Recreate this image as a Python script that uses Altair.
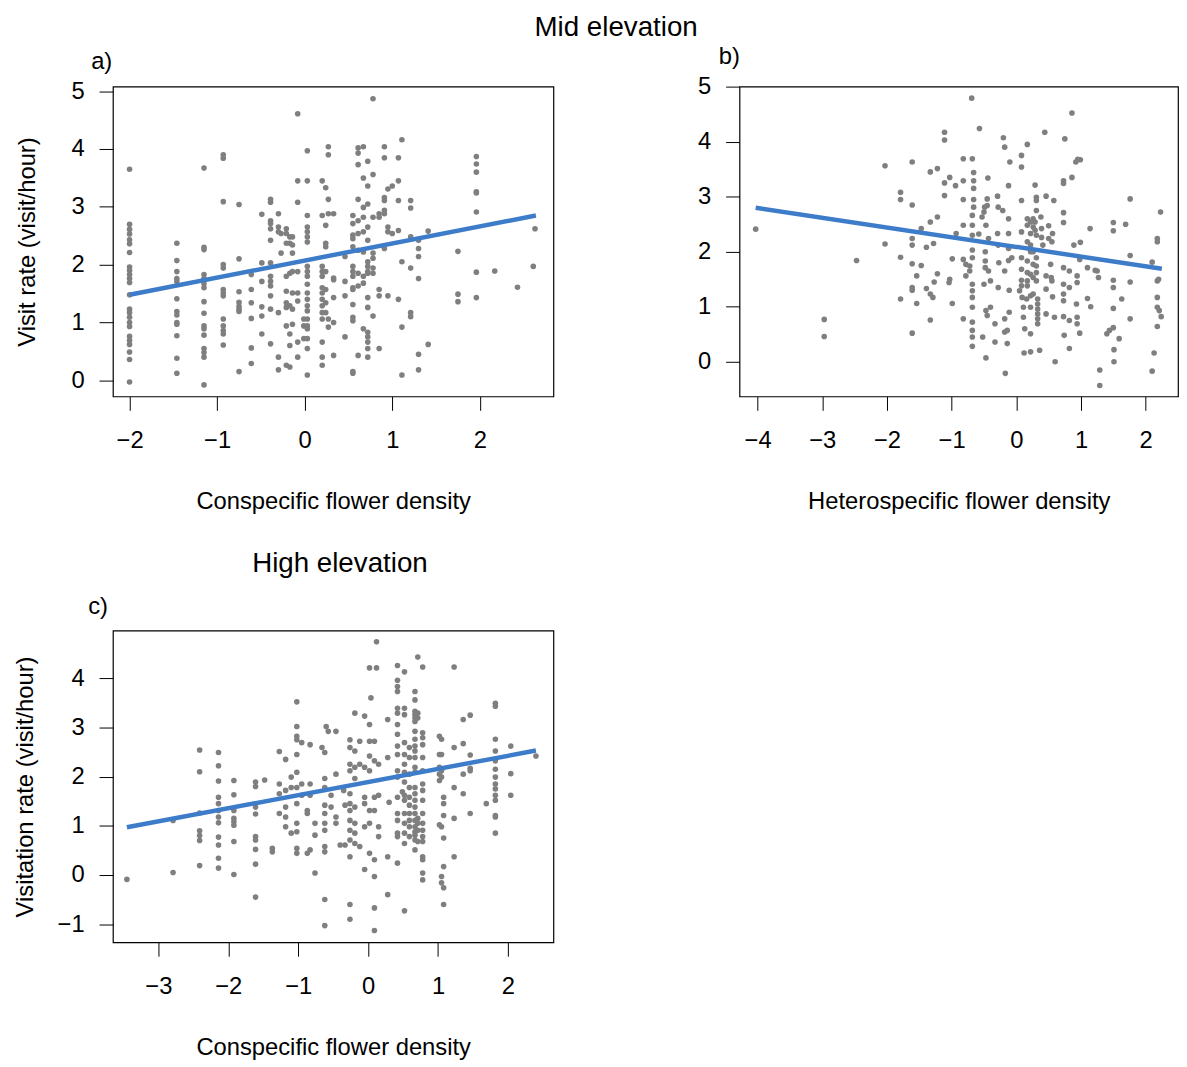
import altair as alt
import pandas as pd

FONT = "Liberation Sans"
POINT_COLOR = "#7F7F7F"
LINE_COLOR = "#3D7CC9"

# ---------------- Panel a: Mid elevation, conspecific density ----------------
a_x = [-2.0, -1.46, -1.15, -0.93, -0.75, -0.61, -0.49, -0.39, -0.30, -0.27, -0.21,
       -0.17, -0.14, -0.08, -0.01, 0.03, 0.20, 0.24, 0.27, 0.33, 0.46, 0.55, 0.61,
       0.67, 0.72, 0.78, 0.85, 0.91, 0.95, 1.00, 1.07, 1.11, 1.21, 1.30, 1.41, 1.75,
       1.96, 2.17, 2.43, 2.61, 2.63]
a_y = [
    [3.65, 2.70, 2.61, 2.53, 2.43, 2.36, 2.21, 1.96, 1.90, 1.83, 1.76, 1.69, 1.48,
     1.23, 1.17, 1.09, 1.00, 0.93, 0.76, 0.69, 0.62, 0.49, 0.36, -0.03],
    [2.37, 2.07, 1.88, 1.76, 1.71, 1.41, 1.19, 1.13, 1.00, 0.97, 0.77, 0.38, 0.12],
    [3.67, 2.30, 2.26, 1.83, 1.76, 1.67, 1.60, 1.36, 1.16, 0.94, 0.89, 0.78, 0.55,
     0.48, 0.40, -0.08],
    [3.90, 3.84, 3.09, 2.00, 1.94, 1.57, 1.51, 1.46, 1.06, 0.94, 0.86, 0.80, 0.61],
    [3.04, 2.10, 1.53, 1.35, 1.28, 1.23, 1.19, 0.15],
    [1.83, 1.57, 1.34, 1.07, 0.56, 0.29],
    [2.87, 2.03, 1.71, 1.27, 1.11, 0.80],
    [3.13, 3.08, 2.76, 2.71, 2.62, 2.42, 2.03, 1.80, 1.71, 1.63, 1.46, 1.23, 0.63],
    [2.88, 2.65, 2.57, 1.17, 0.40, 0.18],
    [2.54, 2.20],
    [2.62, 2.54, 2.37, 1.80, 1.54, 1.34, 1.26, 0.94, 0.26],
    [2.48, 2.37, 1.85, 1.29, 0.80, 0.60, 0.23],
    [2.48, 2.34, 2.20, 1.88, 1.51, 1.23, 0.97],
    [4.61, 3.45, 3.08, 1.88, 1.51, 1.37, 0.66, 0.40],
    [1.06, 0.94, 0.72],
    [3.97, 3.45, 2.85, 2.65, 2.57, 2.48, 2.39, 1.97, 1.88, 1.80, 1.66, 1.51, 1.40,
     1.29, 1.20, 1.06, 0.94, 0.89, 0.72, 0.55, 0.09],
    [3.45, 2.85, 1.97, 1.88, 1.80, 1.60, 1.51, 1.40, 1.29, 1.17, 1.06, 0.66, 0.40, 0.26],
    [3.33, 2.68, 2.37, 2.31, 1.88, 1.57, 1.34, 1.17],
    [4.04, 3.90, 3.13, 2.88, 1.06, 0.92],
    [2.88, 1.77, 1.74, 1.43, 1.00, 0.43],
    [2.14, 1.71, 1.46, 0.75],
    [2.85, 2.71, 2.51, 2.45, 2.31, 1.97, 1.88, 1.80, 1.60, 1.57, 1.31, 1.09, 1.03,
     0.15, 0.12],
    [4.02, 3.93, 3.73, 3.13, 2.76, 2.54, 2.25, 1.85, 1.63, 0.43],
    [4.04, 3.50, 2.99, 2.82, 2.57, 2.22, 1.80, 1.68, 0.89],
    [3.79, 3.36, 3.05, 2.65, 2.42, 2.05, 1.97, 1.88, 1.85, 1.43, 1.26, 0.83, 0.75,
     0.66, 0.55, 0.40],
    [4.87, 3.56, 2.82, 2.20, 2.11, 1.94, 1.85, 1.11],
    [2.88, 2.82, 1.57, 1.46, 0.55],
    [4.04, 3.85, 3.16, 3.11, 2.94, 2.88, 2.28],
    [3.31, 2.65, 2.57, 1.46],
    [3.36, 2.54],
    [3.85, 3.45, 3.11, 2.59, 1.40],
    [4.16, 2.05, 0.92, 0.09],
    [3.11, 2.98, 2.48, 1.94, 1.17, 1.10],
    [2.42, 2.28, 2.14, 1.76, 0.45, 0.18],
    [2.58, 0.62],
    [2.23, 1.49, 1.36],
    [3.87, 3.74, 3.60, 3.26, 3.24, 2.91, 1.87, 1.43],
    [1.89],
    [1.61],
    [1.97],
    [2.62],
]
a_line_x = [-2.0, 2.64]
a_line_y = [1.48, 2.85]

# ---------------- Panel b: Mid elevation, heterospecific density ----------------
b_pts_left = [
    (-4.03, 2.41), (-2.97, 0.77), (-2.97, 0.46), (-2.47, 1.84), (-2.03, 3.56),
    (-2.03, 2.14), (-1.79, 3.08), (-1.79, 2.95), (-1.79, 1.90), (-1.79, 1.14),
    (-1.61, 3.63), (-1.61, 2.85), (-1.61, 2.24), (-1.61, 2.12), (-1.61, 1.78),
    (-1.61, 1.35), (-1.61, 1.30), (-1.61, 0.52), (-1.54, 1.56), (-1.54, 1.06),
    (-1.47, 2.42), (-1.47, 1.75), (-1.39, 2.08), (-1.39, 1.33), (-1.33, 3.45),
    (-1.33, 2.54), (-1.33, 1.23), (-1.33, 0.76), (-1.29, 1.17), (-1.28, 2.15),
    (-1.22, 3.51), (-1.22, 2.63), (-1.22, 1.60), (-1.27, 1.45), (-1.11, 4.17),
    (-1.11, 4.03), (-1.11, 3.25), (-1.11, 3.02), (-1.03, 3.35), (-1.03, 1.50),
    (-0.99, 1.87), (-0.99, 1.06), (-1.04, 1.44), (-0.94, 3.20), (-0.93, 2.33),
    (-0.82, 3.69), (-0.82, 3.29), (-0.82, 2.95), (-0.82, 2.48), (-0.82, 1.86),
    (-0.82, 0.78), (-0.78, 1.77), (-0.78, 1.56),
]
b_pts_mid = [
    (-0.69, 4.79), (-0.68, 3.69), (-0.66, 3.44), (-0.66, 3.29), (-0.66, 3.15),
    (-0.66, 2.95), (-0.66, 2.81), (-0.68, 2.66), (-0.68, 2.48), (-0.68, 2.30),
    (-0.68, 2.03), (-0.68, 1.89), (-0.68, 1.41), (-0.68, 1.29), (-0.68, 1.17),
    (-0.68, 0.99), (-0.68, 0.72), (-0.68, 0.57), (-0.68, 0.45), (-0.68, 0.28),
    (-0.72, 1.74), (-0.72, 1.65), (-0.58, 2.32), (-0.57, 4.24), (-0.53, 2.63),
    (-0.50, 2.72), (-0.49, 2.81), (-0.45, 2.84), (-0.45, 2.96), (-0.47, 2.48),
    (-0.48, 2.00), (-0.48, 1.83), (-0.48, 1.71), (-0.50, 1.41), (-0.47, 0.93),
    (-0.45, 0.84), (-0.52, 0.45), (-0.44, 3.34), (-0.43, 2.24), (-0.43, 1.65),
    (-0.40, 1.47), (-0.40, 0.99), (-0.47, 0.07), (-0.33, 0.69), (-0.33, 0.36),
    (-0.29, 3.01), (-0.28, 2.81), (-0.29, 2.33), (-0.28, 2.12), (-0.28, 1.35),
    (-0.27, 1.80), (-0.20, 4.07), (-0.18, 3.90), (-0.21, 2.75), (-0.18, 1.65),
    (-0.18, 0.78), (-0.18, 0.54), (-0.17, -0.21), (-0.14, 0.33), (-0.14, 0.57),
    (-0.12, 3.20), (-0.12, 2.60), (-0.12, 2.33), (-0.12, 2.06), (-0.12, 1.84),
    (-0.11, 1.30), (-0.11, 0.90), (-0.10, 3.63), (-0.07, 1.89), (0.08, 3.75),
    (0.08, 3.54), (0.08, 2.93), (0.08, 2.36), (0.08, 1.89), (0.08, 1.68),
    (0.08, 1.48), (0.08, 1.38), (0.09, 1.17), (0.11, 0.99), (0.11, 0.81),
    (0.12, 0.16), (0.13, 0.60), (0.05, 1.29), (0.17, 3.95), (0.17, 2.60),
    (0.17, 2.48), (0.17, 2.18), (0.17, 1.83), (0.17, 1.62), (0.17, 1.47),
    (0.17, 1.38), (0.16, 1.14), (0.22, 2.54), (0.22, 2.33), (0.22, 2.12),
    (0.22, 2.00), (0.22, 1.59), (0.22, 1.20), (0.22, 0.99), (0.22, 0.51),
    (0.22, 0.18),
]
b_pts_right = [
    (0.26, 2.60), (0.26, 2.45), (0.26, 2.00), (0.26, 1.77), (0.26, 1.53),
    (0.26, 1.23), (0.29, 3.21), (0.31, 2.99), (0.31, 2.93), (0.31, 2.75),
    (0.29, 2.54), (0.29, 2.39), (0.31, 2.30), (0.31, 1.89), (0.31, 1.74),
    (0.31, 1.62), (0.31, 1.47), (0.33, 1.14), (0.33, 1.05), (0.33, 0.96),
    (0.33, 0.87), (0.33, 0.78), (0.33, 0.69), (0.36, 0.21), (0.38, 2.63),
    (0.39, 2.42), (0.39, 2.26), (0.41, 2.12), (0.44, 4.17), (0.46, 3.01),
    (0.46, 1.56), (0.46, 1.32), (0.46, 0.87), (0.50, 2.47), (0.50, 2.24),
    (0.53, 1.77), (0.54, 1.53), (0.55, 1.47), (0.55, 2.18), (0.56, 2.33),
    (0.56, 1.18), (0.58, 2.93), (0.59, 0.81), (0.60, 0.00), (0.73, 3.29),
    (0.73, 3.24), (0.73, 2.71), (0.73, 2.53), (0.73, 1.71), (0.73, 1.41),
    (0.73, 1.23), (0.73, 1.11), (0.73, 0.82), (0.74, 0.48), (0.75, 4.05),
    (0.82, 1.65), (0.82, 1.35), (0.82, 0.75), (0.82, 0.24), (0.86, 4.52),
    (0.86, 3.35), (0.89, 2.12), (0.92, 3.63), (0.95, 3.68), (0.99, 3.67),
    (0.99, 2.17), (0.98, 1.86), (0.94, 1.56), (0.94, 1.44), (0.94, 0.81),
    (0.94, 0.69), (0.98, 0.52), (0.93, 1.05), (1.10, 1.71), (1.10, 1.15),
    (1.14, 2.42), (1.15, 1.00), (1.25, 1.65), (1.27, 1.53), (1.22, 1.66),
    (1.29, -0.15), (1.29, -0.43), (1.40, 0.51), (1.44, 0.57), (1.50, 2.53),
    (1.50, 2.38), (1.50, 1.48), (1.50, 1.35), (1.50, 0.97), (1.50, 0.62),
    (1.51, 0.22), (1.51, 0.00), (1.59, 0.42), (1.63, 1.14), (1.69, 2.50),
    (1.76, 2.96), (1.76, 1.93), (1.76, 1.45), (1.76, 0.78), (2.10, 1.81),
    (2.13, 0.16), (2.10, -0.17), (2.18, 2.24), (2.18, 2.18), (2.18, 1.47),
    (2.20, 1.50), (2.23, 2.72), (2.18, 1.17), (2.18, 0.99), (2.21, 0.93),
    (2.24, 0.82), (2.18, 0.64),
]
b_line_x = [-4.03, 2.25]
b_line_y = [2.80, 1.69]

# ---------------- Panel c: High elevation, conspecific density ----------------
c_x = [-3.45, -2.79, -2.41, -2.14, -1.92, -1.61, -1.48, -1.37, -1.27, -1.18, -1.10,
       -1.02, -0.95, -0.87, -0.83, -0.76, -0.66, -0.62, -0.60, -0.57, -0.53, -0.46,
       -0.40, -0.35, -0.33, -0.26, -0.19, -0.12, -0.05, 0.02, 0.04, 0.09, 0.12, 0.15,
       0.28, 0.30, 0.42, 0.49, 0.52, 0.59, 0.67, 0.71, 0.78, 1.02, 1.05, 1.08, 1.23,
       1.36, 1.46, 1.69, 1.82, 2.04, 2.40]
c_y = [
    [-0.09],
    [1.11, 0.05],
    [2.54, 2.10, 1.26, 0.90, 0.80, 0.70, 0.19],
    [2.49, 2.22, 1.91, 1.58, 1.45, 1.31, 1.18, 1.06, 0.77, 0.61, 0.34, 0.14],
    [1.92, 1.63, 1.31, 1.15, 1.08, 1.01, 0.68, 0.01],
    [1.89, 1.80, 1.38, 1.24, 0.78, 0.71, 0.52, 0.22, -0.45],
    [1.93],
    [0.54, 0.47],
    [2.51, 1.85, 1.65, 1.25],
    [2.35, 1.72, 1.38, 1.18, 0.98],
    [1.99, 1.78, 0.85],
    [3.52, 3.02, 2.82, 2.75, 2.45, 2.09, 1.78, 1.45, 1.05, 0.88, 0.54, 0.44],
    [2.69, 1.85, 1.62],
    [1.31, 1.25, 0.44],
    [2.65, 1.85, 1.62, 0.51],
    [1.05, 0.81, 0.04],
    [2.59],
    [2.49, 1.96, 1.78, 1.42, 1.25, 1.05, 0.91, 0.58, 0.47, -0.50, -1.03],
    [3.02],
    [2.92],
    [1.62, 1.38],
    [2.92, 2.05, 1.18, 1.05],
    [0.61],
    [1.72],
    [1.42, 0.61],
    [2.75, 2.59, 2.25, 2.12, 1.65, 1.45, 1.31, 1.11, 0.91, 0.71, 0.37, -0.60, -0.90],
    [3.29, 2.52, 2.19, 1.96, 1.38, 1.05, 0.85, 0.64],
    [2.72, 2.25, 0.58],
    [3.23, 2.19, 1.58, 1.45, 0.98, 0.11],
    [4.21, 3.06, 2.72, 2.42, 2.12, 1.31, 1.05, 0.44],
    [3.60],
    [2.72, 2.32, 1.58, 1.31, 0.31, -0.03, -0.67, -1.13],
    [4.74, 4.21],
    [2.25, 1.62, 0.98, 0.78],
    [3.16, 2.39, 0.37, -0.40],
    [1.48],
    [4.26, 3.96, 3.83, 3.73, 3.39, 3.29, 3.06, 2.86, 2.62, 2.45, 2.12, 1.99, 1.58,
     1.25, 1.11, 0.85, 0.78, 0.24],
    [1.69],
    [4.13, 3.39, 3.26, 2.69, 2.45, 2.25, 2.09, 1.89, 1.62, 1.52, 1.25, 1.05, 0.85,
     0.64, -0.73],
    [2.59, 2.39, 2.05, 1.78, 1.58, 1.42, 1.25, 1.11, 0.98, 0.78],
    [3.73, 3.56, 3.33, 3.26, 3.19, 3.12, 2.92, 2.76, 2.62, 2.52, 2.39, 2.19, 2.09,
     1.78, 1.65, 1.52, 1.38, 1.25, 1.11, 0.98, 0.88, 0.81, 0.71, 0.51],
    [4.43, 3.29, 3.19, 1.15, 1.05, 0.91, 0.68],
    [4.23, 2.89, 2.79, 2.65, 2.39, 2.12, 1.85, 1.72, 1.52, 1.25, 1.05, 0.91, 0.78,
     0.68, 0.37, 0.31, 0.04, -0.10],
    [2.82, 2.45, 2.19, 2.05, 1.92, 1.02],
    [2.76, 2.45, 2.12, 1.99, 0.98, -0.03, -0.16],
    [1.58, 1.45, 1.21, 0.75, 0.17, -0.26, -0.60],
    [4.23, 2.59, 1.78, 1.15, 0.37],
    [3.16, 2.67, 2.05, 1.65],
    [3.25, 2.44, 2.17, 2.12, 1.25],
    [1.45],
    [3.49, 3.43, 2.76, 2.52, 2.32, 2.15, 1.99, 1.85, 1.75, 1.62, 1.52, 1.21, 1.18, 0.85],
    [2.62, 2.06, 1.62],
    [2.42],
]
c_line_x = [-3.45, 2.40]
c_line_y = [0.97, 2.53]


def cols_to_df(xs, ys):
    rows = [(x, y) for x, col in zip(xs, ys) for y in col]
    return pd.DataFrame(rows, columns=["x", "y"])


def pts_to_df(*groups):
    rows = [p for g in groups for p in g]
    return pd.DataFrame(rows, columns=["x", "y"])


def panel(df, lx, ly, xdom, ydom, xvals, yvals, xtitle, ytitle, label, w, h,
          ytitle_pad=28, label_offset=8.5, label_dx=-22):
    line_df = pd.DataFrame({"x": lx, "y": ly})
    xaxis = alt.Axis(values=xvals, title=xtitle, format="d")
    yargs = dict(values=yvals, format="d")
    if ytitle:
        yargs["title"] = ytitle
        yargs["titlePadding"] = ytitle_pad
    else:
        yargs["title"] = None
    xs = alt.Scale(domain=xdom, nice=False, zero=False)
    ys = alt.Scale(domain=ydom, nice=False, zero=False)
    pts = alt.Chart(df).mark_circle(size=32, color=POINT_COLOR, opacity=1).encode(
        x=alt.X("x:Q", scale=xs, axis=xaxis),
        y=alt.Y("y:Q", scale=ys, axis=alt.Axis(**yargs)),
    )
    ln = alt.Chart(line_df).mark_line(color=LINE_COLOR, strokeWidth=4.5).encode(
        x="x:Q", y="y:Q"
    )
    return alt.layer(pts, ln).properties(
        width=w, height=h,
        title=alt.TitleParams(label, anchor="start", frame="group", dx=label_dx,
                              fontSize=24, fontWeight="normal", font=FONT,
                              color="black", offset=label_offset),
    )


pa = panel(cols_to_df(a_x, a_y), a_line_x, a_line_y, [-2.19, 2.84], [-0.28, 5.08],
           [-2, -1, 0, 1, 2], [0, 1, 2, 3, 4, 5], "Conspecific flower density",
           "Visit rate (visit/hour)", "a)", 445, 313, 32, 5.5, -22)
pb = panel(pts_to_df(b_pts_left, b_pts_mid, b_pts_right), b_line_x, b_line_y,
           [-4.28, 2.50], [-0.63, 5.0], [-4, -3, -2, -1, 0, 1, 2],
           [0, 1, 2, 3, 4, 5], "Heterospecific flower density", None, "b)", 443, 313,
           28, 5.5, -21)
pc = panel(cols_to_df(c_x, c_y), c_line_x, c_line_y, [-3.65, 2.65], [-1.37, 4.97],
           [-3, -2, -1, 0, 1, 2], [-1, 0, 1, 2, 3, 4], "Conspecific flower density",
           "Visitation rate (visit/hour)", "c)", 445, 315, 20, 11.3, -25)

top = alt.hconcat(pa, pb, spacing=144).properties(
    title=alt.TitleParams("Mid elevation", anchor="middle", dx=19.5,
                          fontSize=28, fontWeight="normal", font=FONT,
                          color="black", offset=3)
)
bottom = alt.vconcat(pc).properties(
    title=alt.TitleParams("High elevation", anchor="middle", dx=57,
                          fontSize=28, fontWeight="normal", font=FONT,
                          color="black", offset=17)
)

chart = alt.vconcat(top, bottom, spacing=36.5).properties(
    padding={"left": 5, "top": 0, "right": 0, "bottom": 0}
).configure_view(
    stroke="black", strokeWidth=1.2
).configure_axis(
    labelFont=FONT, labelFontSize=24, labelColor="black",
    titleFont=FONT, titleFontSize=24, titleFontWeight="normal", titleColor="black",
    tickSize=14, tickColor="black", tickWidth=1, domain=False, grid=False,
    labelFlush=False, labelOverlap=False
).configure_axisX(
    labelPadding=19, titlePadding=37
).configure_axisY(
    labelPadding=15
)

chart.save("out.html", embed_options={"renderer": "svg", "actions": False})
